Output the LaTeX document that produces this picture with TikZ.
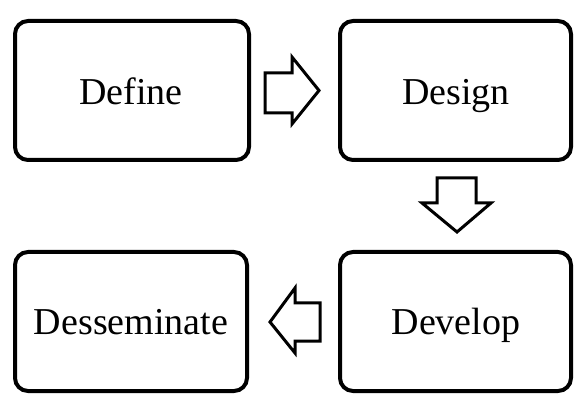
\documentclass[tikz,border=0pt]{standalone}
\usepackage{fontspec}
\setmainfont{Liberation Serif}
\begin{document}
\begin{tikzpicture}[x=1pt,y=1pt,
  stagebox/.style={draw=black,line width=4pt,rounded corners=13pt,fill=white},
  stagetext/.style={font=\fontsize{38}{40}\selectfont,inner sep=0pt,anchor=base},
  blockarrow/.style={draw=black,line width=3pt,fill=white,line join=miter}]
\useasboundingbox (0,0) rectangle (586,399);
% boxes
\draw[stagebox] (15,378) rectangle (249,239);
\draw[stagebox] (340,378) rectangle (571,239);
\draw[stagebox] (340,147) rectangle (571,8);
\draw[stagebox] (15,147) rectangle (247,8);
\node[stagetext] (define) at (131,294.5) {Define};
\node[stagetext] (design) at (456,294.5) {Design};
\node[stagetext] (develop) at (456,64) {Develop};
\node[stagetext] (dess) at (131,64) {Desseminate};
% block arrows
\draw[blockarrow] (265,326) -- (292,326) -- (292,342) -- (319,308.5) -- (292,275) -- (292,286) -- (265,286) -- cycle;
\draw[blockarrow] (437,221) -- (476,221) -- (476,196) -- (491,196) -- (457,167) -- (422,196) -- (437,196) -- cycle;
\draw[blockarrow] (320,96) -- (295,96) -- (295,111) -- (270,77) -- (295,46) -- (295,58) -- (320,58) -- cycle;
\end{tikzpicture}
\end{document}
